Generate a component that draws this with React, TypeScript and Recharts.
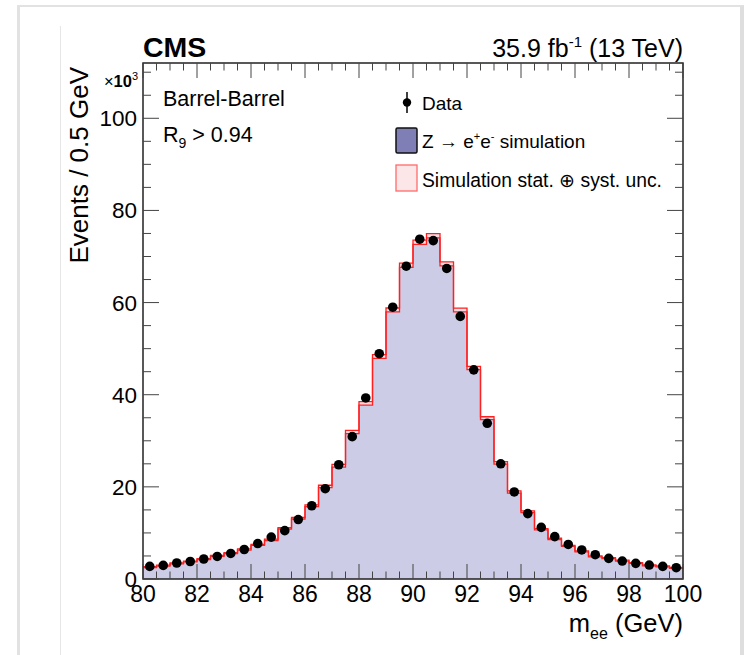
import { Area, ComposedChart, ReferenceArea, Scatter, XAxis, YAxis } from "recharts";

// bin edges (GeV), 0.5 GeV bins
const edges = [
  80, 80.5, 81, 81.5, 82, 82.5, 83, 83.5, 84, 84.5, 85, 85.5, 86, 86.5, 87, 87.5, 88, 88.5, 89, 89.5, 90,
  90.5, 91, 91.5, 92, 92.5, 93, 93.5, 94, 94.5, 95, 95.5, 96, 96.5, 97, 97.5, 98, 98.5, 99, 99.5, 100,
];
const centers = [
  80.25, 80.75, 81.25, 81.75, 82.25, 82.75, 83.25, 83.75, 84.25, 84.75, 85.25, 85.75, 86.25, 86.75, 87.25,
  87.75, 88.25, 88.75, 89.25, 89.75, 90.25, 90.75, 91.25, 91.75, 92.25, 92.75, 93.25, 93.75, 94.25, 94.75,
  95.25, 95.75, 96.25, 96.75, 97.25, 97.75, 98.25, 98.75, 99.25, 99.75,
];

// events x10^3 per bin
const simValues = [
  2.6, 2.9, 3.4, 3.8, 4.3, 5.0, 5.6, 6.4, 7.4, 8.5, 11.0, 13.2, 15.9, 20.1, 24.6, 31.9, 38.1, 48.3, 58.4, 68.1,
  73.1, 74.5, 68.4, 58.4, 45.8, 34.9, 25.2, 18.9, 14.6, 10.8, 8.7, 7.2, 6.0, 4.9, 4.55, 4.0, 3.47, 2.95, 2.73, 2.4,
];
const simUnc = [
  0.1, 0.1, 0.1, 0.1, 0.1, 0.1, 0.1, 0.12, 0.12, 0.14, 0.15, 0.18, 0.2, 0.25, 0.3, 0.35, 0.38, 0.4, 0.42, 0.45,
  0.45, 0.45, 0.42, 0.4, 0.36, 0.32, 0.28, 0.24, 0.2, 0.15, 0.14, 0.12, 0.12, 0.1, 0.1, 0.1, 0.1, 0.1, 0.1, 0.1,
];
const dataValues = [
  2.73, 2.95, 3.47, 3.8, 4.34, 4.9, 5.55, 6.4, 7.7, 9.1, 10.5, 12.9, 15.9, 19.6, 24.8, 30.9, 39.3, 48.9, 59.0,
  67.9, 73.75, 73.45, 67.4, 57.0, 45.4, 33.8, 25.0, 18.9, 14.2, 11.2, 9.2, 7.5, 6.3, 5.27, 4.47, 3.9, 3.4, 3.03,
  2.73, 2.45,
];

const yTicks = [0, 5, 10, 15, 20, 25, 30, 35, 40, 45, 50, 55, 60, 65, 70, 75, 80, 85, 90, 95, 100, 105, 110];
const xLabels = [80, 82, 84, 86, 88, 90, 92, 94, 96, 98, 100];
const yLabels = [0, 20, 40, 60, 80, 100];

const W = 746;
const H = 655;
const TOP = 63;
const RIGHT = 683;
const FONT = "'Liberation Sans', Arial, Helvetica, sans-serif";
const TICK = "#444";

const histRows = edges.map((x, i) => {
  const k = Math.min(i, simValues.length - 1);
  const v = simValues[k];
  return { x, sim: v, band: [v - simUnc[k], v + simUnc[k]] };
});
const dataRows = centers.map((x, i) => ({ x, v: dataValues[i] }));

function XTick(props: any) {
  const { x, y, payload } = props;
  const v = payload.value;
  const major = xLabels.includes(v);
  const len = major ? 15 : 7.5;
  return (
    <g>
      <line x1={x} x2={x} y1={y} y2={y - len} stroke={TICK} strokeWidth={1} />
      <line x1={x} x2={x} y1={TOP} y2={TOP + len} stroke={TICK} strokeWidth={1} />
      {major && (
        <text x={x} y={y + 23} textAnchor="middle" fontSize={23} fontFamily={FONT} fill="#000">
          {v}
        </text>
      )}
    </g>
  );
}

function YTick(props: any) {
  const { x, y, payload } = props;
  const v = payload.value;
  const major = yLabels.includes(v);
  const len = major ? 16 : 8;
  return (
    <g>
      <line x1={x} x2={x + len} y1={y} y2={y} stroke={TICK} strokeWidth={1} />
      <line x1={RIGHT} x2={RIGHT - len} y1={y} y2={y} stroke={TICK} strokeWidth={1} />
      {major && (
        <text x={x - 6} y={y + 8} textAnchor="end" fontSize={22.5} fontFamily={FONT} fill="#000">
          {v}
        </text>
      )}
    </g>
  );
}

function Dot(props: any) {
  return <circle cx={props.cx} cy={props.cy} r={4.8} fill="#000" />;
}

export default function App() {
  return (
    <div style={{ position: "absolute", left: 0, top: 0, width: W, height: H, background: "#fff", overflow: "hidden" }}>
      <div
        style={{
          position: "absolute",
          left: 17,
          top: 5,
          width: 720,
          height: 700,
          borderTop: "2px solid #e2e2e2",
          borderLeft: "3px solid #e2e2e2",
          borderRight: "4px solid #dedede",
        }}
      />
      <div style={{ position: "absolute", left: 60, top: 26, width: 1, height: 640, background: "#e6e6e6" }} />
      <div style={{ position: "absolute", left: 0, top: 0 }}>
        <ComposedChart width={W} height={H} data={histRows} margin={{ top: TOP, right: W - RIGHT, bottom: 0, left: 0 }}>
          <XAxis
            type="number"
            dataKey="x"
            domain={[80, 100]}
            ticks={edges}
            interval={0}
            allowDataOverflow
            height={76}
            axisLine={false}
            tickLine={false}
            tickSize={0}
            tickMargin={0}
            tick={(p: any) => <XTick {...p} />}
          />
          <YAxis
            type="number"
            domain={[0, 112]}
            ticks={yTicks}
            interval={0}
            allowDataOverflow
            width={143}
            axisLine={false}
            tickLine={false}
            tickSize={0}
            tickMargin={0}
            tick={(p: any) => <YTick {...p} />}
          />
          <Area
            type="stepAfter"
            dataKey="sim"
            stroke="none"
            fill="#ccccE6"
            fillOpacity={1}
            isAnimationActive={false}
            dot={false}
            activeDot={false}
          />
          <Area
            type="stepAfter"
            dataKey="band"
            stroke="#ff2020"
            strokeWidth={1.3}
            fill="#f7dfe4"
            fillOpacity={0.9}
            isAnimationActive={false}
            dot={false}
            activeDot={false}
          />
          <Scatter data={dataRows} dataKey="v" shape={(p: any) => <Dot {...p} />} isAnimationActive={false} />
          <ReferenceArea x1={80} x2={100} y1={0} y2={112} fill="none" stroke="#222" strokeWidth={1.5} ifOverflow="visible" />
        </ComposedChart>
      </div>
      <svg width={W} height={H} style={{ position: "absolute", left: 0, top: 0, pointerEvents: "none" }} fontFamily={FONT}>
        <text x={143} y={57} fontSize={28.5} fontWeight="bold">CMS</text>
        <text x={RIGHT} y={57} fontSize={25} textAnchor="end">
          35.9 fb<tspan fontSize={15} dy={-10}>-1</tspan>
          <tspan dy={10}> (13 TeV)</tspan>
        </text>
        <text x={138} y={87} fontSize={16.5} textAnchor="end">
          ×<tspan fontWeight="bold">10</tspan>
          <tspan fontSize={11} dy={-7}>3</tspan>
        </text>
        <text x={163} y={106} fontSize={21.5}>Barrel-Barrel</text>
        <text x={163} y={142} fontSize={21.5}>
          R<tspan fontSize={14} dy={6}>9</tspan>
          <tspan dy={-6}> &gt; 0.94</tspan>
        </text>

        <line x1={407} x2={407} y1={92} y2={113} stroke="#000" strokeWidth={1.5} />
        <circle cx={407} cy={102.5} r={4.2} fill="#000" />
        <text x={422} y={110} fontSize={19}>Data</text>

        <rect x={396} y={128} width={21} height={25} rx={1.5} fill="#7f7fb5" stroke="#111" strokeWidth={1.5} />
        <text x={422} y={148} fontSize={19}>
          Z → e<tspan fontSize={11} dy={-8}>+</tspan>
          <tspan dy={8}>e</tspan>
          <tspan fontSize={11} dy={-8}>-</tspan>
          <tspan dy={8}> simulation</tspan>
        </text>

        <rect x={396} y={165} width={21} height={26} fill="#fce6e8" stroke="#ff6a6a" strokeWidth={1.3} />
        <text x={422} y={187} fontSize={19.3}>Simulation stat. ⊕ syst. unc.</text>

        <text transform="translate(88,67) rotate(-90)" fontSize={26} textAnchor="end">
          Events / 0.5 GeV
        </text>
        <text x={RIGHT} y={632} fontSize={25.5} textAnchor="end">
          m<tspan fontSize={16} dy={7}>ee</tspan>
          <tspan dy={-7}> (GeV)</tspan>
        </text>
      </svg>
    </div>
  );
}
